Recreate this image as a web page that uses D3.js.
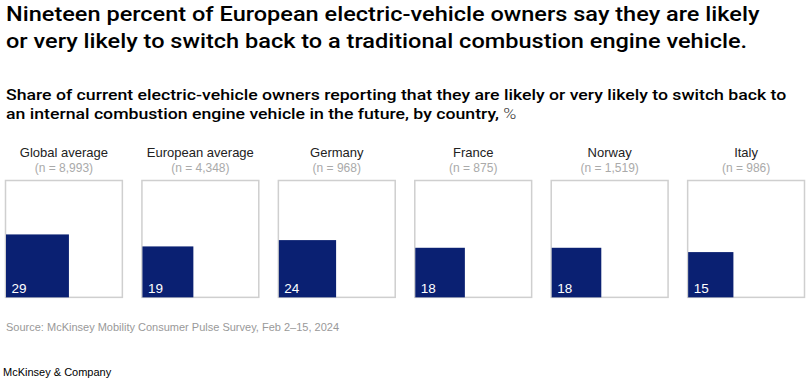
<!DOCTYPE html>
<html><head><meta charset="utf-8">
<script src="https://cdn.jsdelivr.net/npm/d3@7"></script>
<style>body{margin:0;background:#fff;} svg{display:block;font-family:"Liberation Sans",Arial,sans-serif;}</style>
</head><body>
<svg id="c" width="810" height="384"></svg>
<script>
const categories = ["Global average","European average","Germany","France","Norway","Italy"];
const sampleSizes = ["8,993","4,348","968","875","1,519","986"];
const values = [29,19,24,18,18,15];
const titleLines = ["Nineteen percent of European electric-vehicle owners say they are likely","or very likely to switch back to a traditional combustion engine vehicle."];
const subtitleLines = ["Share of current electric-vehicle owners reporting that they are likely or very likely to switch back to","an internal combustion engine vehicle in the future, by country, "];
const source = "Source: McKinsey Mobility Consumer Pulse Survey, Feb 2\u201315, 2024";

const svg = d3.select("#c");
const x = d3.scaleBand().domain(categories).range([5.5, 804.5]).paddingInner(0.1435);
const S = x.bandwidth();
const boxTop = 180.5;
const side = d3.scaleSqrt().domain([0,100]).range([0,S]);

function block(lines, y0, dy, size, weight, family, targetW, suffix){
  const gb = svg.append("g");
  const texts = lines.map((t,i)=>{
    const tx = gb.append("text").attr("x",0).attr("y",y0+i*dy).attr("font-size",size).attr("font-weight",weight)
      .attr("font-family",family).attr("fill","#000");
    tx.append("tspan").text(t);
    if(suffix && i===lines.length-1) tx.append("tspan").attr("font-weight",300).attr("fill","#333").text(suffix);
    return tx;
  });
  const w = texts[0].node().getComputedTextLength();
  gb.attr("transform",`translate(6,0) scale(${targetW/w},1)`);
}
block(titleLines, 21, 27.5, 20.5, 500, "Roboto, 'Liberation Sans', sans-serif", 754);
block(subtitleLines, 100, 19.5, 15.5, 500, "Roboto, 'Liberation Sans', sans-serif", 781, "%");

const g = svg.selectAll("g.panel").data(categories).join("g").attr("class","panel")
  .attr("transform",d=>`translate(${x(d)},${boxTop})`);
g.append("text").attr("x",S/2).attr("y",-24).attr("text-anchor","middle").attr("font-size",13).attr("fill","#222").text(d=>d);
g.append("text").attr("x",S/2).attr("y",-9).attr("text-anchor","middle").attr("font-size",12).attr("fill","#aaa").text((d,i)=>`(n = ${sampleSizes[i]})`);
g.append("rect").attr("x",0).attr("y",0).attr("width",S).attr("height",S).attr("fill","#fff").attr("stroke","#cfcfcf").attr("stroke-width",1.5);
g.append("rect").attr("x",0.5).attr("y",(d,i)=>S-side(values[i])).attr("width",(d,i)=>side(values[i])).attr("height",(d,i)=>side(values[i])).attr("fill","#0a2072");
g.append("text").attr("x",6).attr("y",S-4.5).attr("font-size",13.5).attr("fill","#fff").text((d,i)=>values[i]);

svg.append("text").attr("x",6).attr("y",331).attr("font-size",11).attr("fill","#999").text(source);
svg.append("text").attr("x",3).attr("y",376).attr("font-size",11).attr("fill","#000").text("McKinsey & Company");
</script>
</body></html>
